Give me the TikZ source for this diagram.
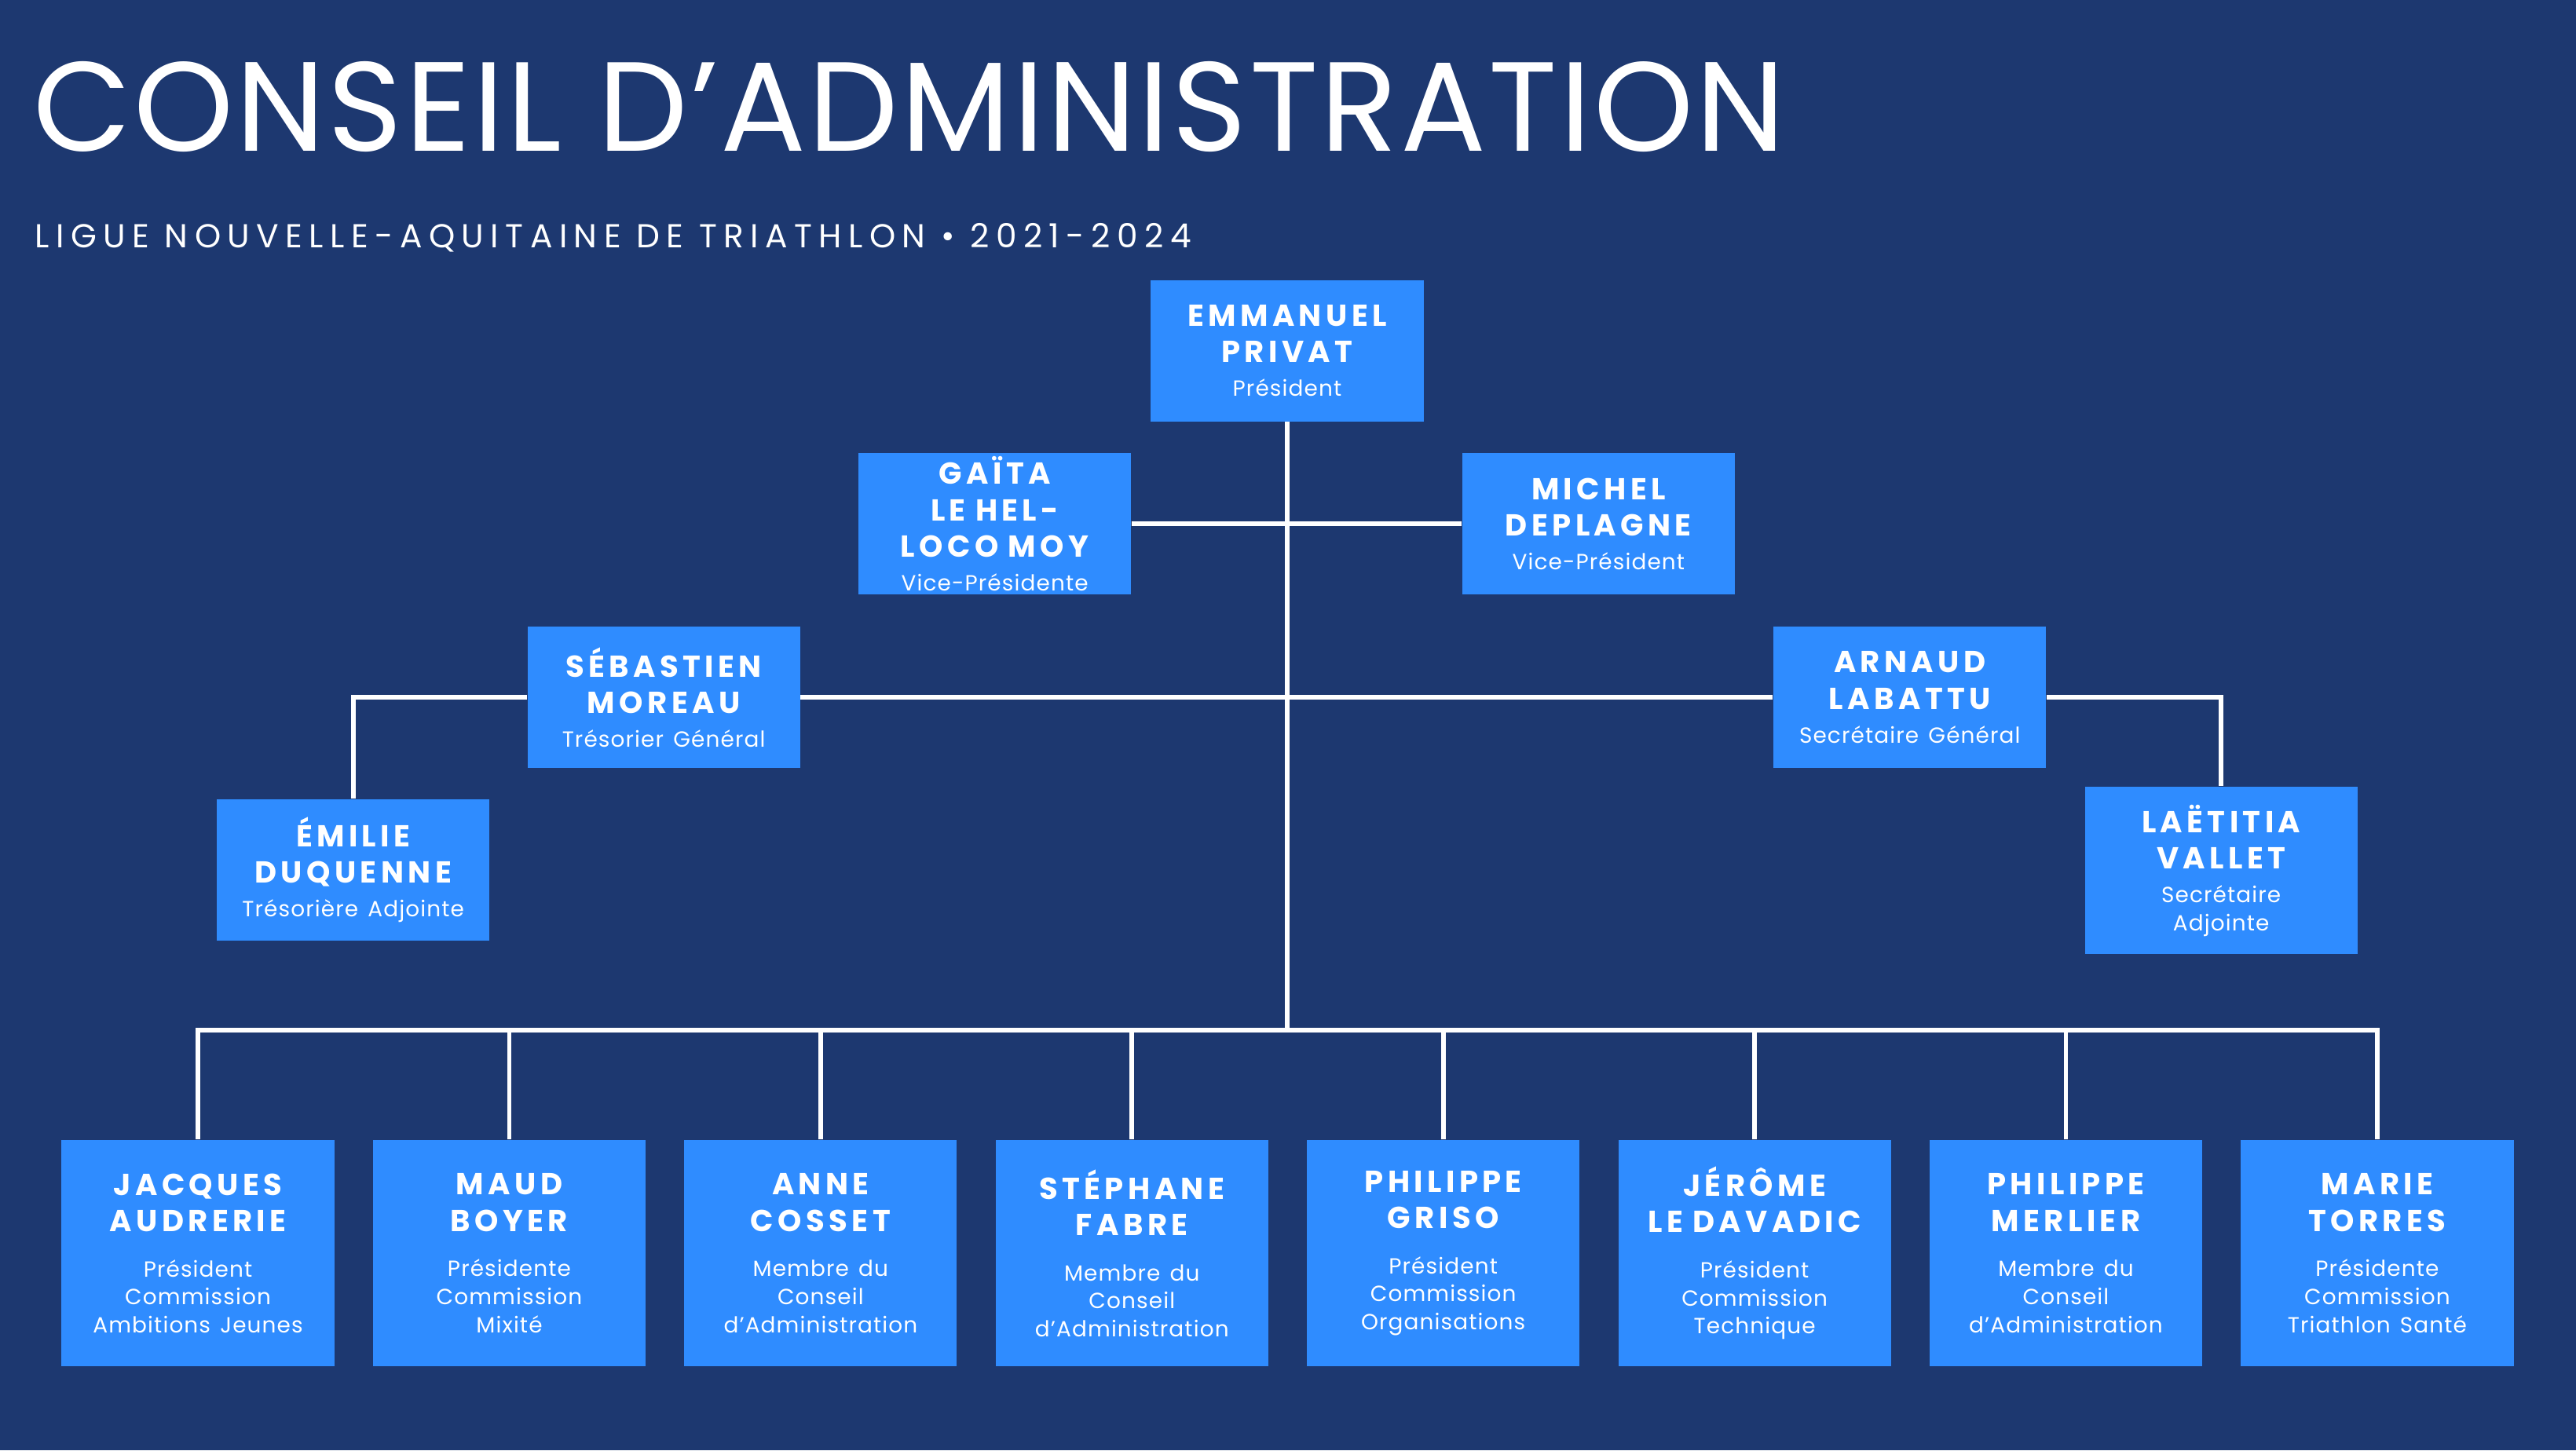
\documentclass[tikz,border=0pt]{standalone}
\usepackage{fontspec}
\setmainfont{Poppins}
\usetikzlibrary{positioning}
\definecolor{fond}{HTML}{1D3870}
\definecolor{boite}{HTML}{2F8CFF}
\newcommand{\pnom}[1]{{\fontsize{10.5}{12.6}\selectfont\bfseries\addfontfeatures{LetterSpace=14}#1\par}}
\newcommand{\prole}[1]{{\vspace{2pt}\fontsize{7.6}{9.7}\selectfont\addfontfeatures{LetterSpace=4}#1\par}}
\tikzset{
  membre/.style={fill=boite, text=white, minimum width=3.32cm, minimum height=1.72cm,
    text width=3.2cm, align=center, inner sep=0pt},
  grand/.style={membre, minimum height=2.76cm},
  lien/.style={draw=white, line width=1.6pt}
}
\begin{document}
\begin{tikzpicture}[x=0.02cm, y=-0.02cm]
    % Fond
    \fill[fond] (0,0) rectangle (1568,883);
    \useasboundingbox (0,0) rectangle (1568,883);

    % Titre
    \node[anchor=base west, inner sep=0pt, text=white, font=\fontsize{44}{44}\selectfont\addfontfeatures{LetterSpace=2}] (titre) at (20,92) {CONSEIL D'ADMINISTRATION};
    \node[anchor=base west, inner sep=0pt, text=white, font=\fontsize{11.5}{12}\selectfont\addfontfeatures{LetterSpace=20}] (soustitre) at (21,151) {LIGUE NOUVELLE-AQUITAINE DE TRIATHLON • 2021-2024};

    % Bureau
    \node[membre] (privat) at (783.5,213.5) {\pnom{EMMANUEL\\PRIVAT}\prole{Président}};
    \node[membre] (gaita) at (605.5,319) {\pnom{GAÏTA\\LE HELLOCO MOY}\prole{Vice-Présidente}};
    \node[membre] (michel) at (973,319) {\pnom{MICHEL\\DEPLAGNE}\prole{Vice-Président}};
    \node[membre] (moreau) at (404,424.5) {\pnom{SÉBASTIEN\\MOREAU}\prole{Trésorier Général}};
    \node[membre] (labattu) at (1162.5,424.5) {\pnom{ARNAUD\\LABATTU}\prole{Secrétaire Général}};
    \node[membre] (emilie) at (215,529.5) {\pnom{ÉMILIE\\DUQUENNE}\prole{Trésorière Adjointe}};
    \node[membre, minimum height=2.04cm] (vallet) at (1352,530) {\pnom{LAËTITIA\\VALLET}\prole{Secrétaire\\Adjointe}};

    % Membres du conseil
    \foreach \x/\id/\nom/\role in {
        120.5/audrerie/{JACQUES\\AUDRERIE}/{Président\\Commission\\Ambitions Jeunes},
        310/boyer/{MAUD\\BOYER}/{Présidente\\Commission\\Mixité},
        499.5/cosset/{ANNE\\COSSET}/{Membre du\\Conseil\\d'Administration},
        689/fabre/{STÉPHANE\\FABRE}/{Membre du\\Conseil\\d'Administration},
        878.5/griso/{PHILIPPE\\GRISO}/{Président\\Commission\\Organisations},
        1068/davadic/{JÉRÔME\\LE DAVADIC}/{Président\\Commission\\Technique},
        1257.5/merlier/{PHILIPPE\\MERLIER}/{Membre du\\Conseil\\d'Administration},
        1447/torres/{MARIE\\TORRES}/{Présidente\\Commission\\Triathlon Santé}}
        \node[grand] (\id) at (\x,763) {\pnom{\nom}\vspace{4pt}\prole{\role}};

    % Liens
    \coordinate (bus) at (783.5,627);
    \draw[lien] (privat.south) -- (bus);
    \draw[lien] (gaita.east) -- (michel.west);
    \draw[lien] (moreau.east) -- (labattu.west);
    \draw[lien] (moreau.west) -| (emilie.north);
    \draw[lien] (labattu.east) -| (vallet.north);
    \draw[lien] (audrerie.north) |- (bus) -| (torres.north);
    \foreach \id in {boyer,cosset,fabre,griso,davadic,merlier}
        \draw[lien] (\id.north) -- (\id.north |- bus);
\end{tikzpicture}
\end{document}
